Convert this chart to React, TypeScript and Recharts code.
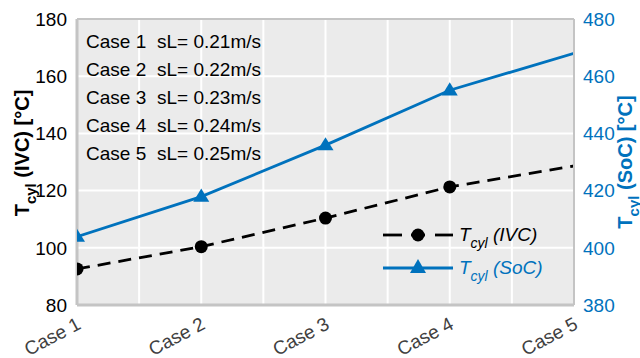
import React from "react";
import {
  LineChart,
  Line,
  XAxis,
  YAxis,
  CartesianGrid,
  ReferenceLine,
} from "recharts";

const cases = ["Case 1", "Case 2", "Case 3", "Case 4", "Case 5"];
const flameSpeeds = ["0.21", "0.22", "0.23", "0.24", "0.25"];
const tIvc = [92.6, 100.4, 110.4, 121.3, 128.6];
const tSoc = [403.9, 417.9, 435.9, 455.1, 468.0];
const leftTicks = [80, 100, 120, 140, 160, 180];
const rightTicks = [380, 400, 420, 440, 460, 480];
const xTicks = [1, 1.5, 2, 2.5, 3, 3.5, 4, 4.5, 5];

const data = cases.map((c, i) => ({
  x: i + 1,
  name: c,
  ivc: tIvc[i],
  soc: tSoc[i],
}));

const BLUE = "#0072BD";
const FONT = "'Liberation Sans', Arial, sans-serif";
const AXIS_GRAY = "#c4c4c4";

// markers only on the first four cases
const CircleDot = (props: any) => {
  const { cx, cy, index } = props;
  if (index > 3) return <g key={`c${index}`} />;
  return <circle key={`c${index}`} cx={cx} cy={cy} r={6.5} fill="#000" />;
};

const TriangleDot = (props: any) => {
  const { cx, cy, index } = props;
  if (index > 3) return <g key={`t${index}`} />;
  const s = 8;
  return (
    <polygon
      key={`t${index}`}
      points={`${cx},${cy - s} ${cx - s},${cy + s * 0.65} ${cx + s},${cy + s * 0.65}`}
      fill={BLUE}
    />
  );
};

const CaseTick = (props: any) => {
  const { x, y, payload } = props;
  if (!Number.isInteger(payload.value)) return <g />;
  return (
    <text
      transform={`translate(${x + 5},${y + 15}) rotate(-28)`}
      textAnchor="end"
      fontSize={19}
      fontFamily={FONT}
      fill="#404040"
    >
      {cases[payload.value - 1]}
    </text>
  );
};

export default function App() {
  return (
    <div style={{ position: "absolute", left: 0, top: 0, width: 640, height: 358, background: "#fff" }}>
      <LineChart
        width={640}
        height={358}
        data={data}
        margin={{ top: 19, right: 0, bottom: 0, left: 0 }}
      >
        <CartesianGrid
          yAxisId="left"
          fill="#ebebeb"
          stroke="#ffffff"
          strokeWidth={2}
        />
        <XAxis
          dataKey="x"
          type="number"
          domain={[1, 5]}
          ticks={xTicks}
          interval={0}
          allowDataOverflow
          height={53}
          tick={<CaseTick />}
          tickLine={false}
          axisLine={{ stroke: AXIS_GRAY, strokeWidth: 3 }}
        />
        <YAxis
          yAxisId="left"
          domain={[80, 180]}
          ticks={leftTicks}
          width={77}
          tickLine={false}
          tickMargin={4}
          axisLine={{ stroke: AXIS_GRAY, strokeWidth: 3 }}
          tick={{ fill: "#000", fontSize: 19, fontFamily: FONT }}
        />
        <YAxis
          yAxisId="right"
          orientation="right"
          domain={[380, 480]}
          ticks={rightTicks}
          width={66}
          tickLine={false}
          tickMargin={3}
          axisLine={{ stroke: AXIS_GRAY, strokeWidth: 2 }}
          tick={{ fill: BLUE, fontSize: 19, fontFamily: FONT, textAnchor: "start" }}
        />
        <ReferenceLine yAxisId="left" y={180} stroke={AXIS_GRAY} strokeWidth={2} />
        <Line
          yAxisId="left"
          dataKey="ivc"
          stroke="#000"
          strokeWidth={2.8}
          strokeDasharray="13 8"
          dot={<CircleDot />}
          isAnimationActive={false}
        />
        <Line
          yAxisId="right"
          dataKey="soc"
          stroke={BLUE}
          strokeWidth={2.8}
          dot={<TriangleDot />}
          isAnimationActive={false}
        />

        {/* flame speed table */}
        <g fontFamily={FONT} fontSize={19} fill="#000">
          {cases.map((c, i) => (
            <g key={c}>
              <text x={86} y={48 + i * 28}>{c}</text>
              <text x={157} y={48 + i * 28}>{`sL= ${flameSpeeds[i]}m/s`}</text>
            </g>
          ))}
        </g>

        {/* legend */}
        <g fontFamily={FONT} fontSize={19} fontStyle="italic">
          <line x1={383} x2={402} y1={235} y2={235} stroke="#000" strokeWidth={2.8} />
          <line x1={411} x2={425} y1={235} y2={235} stroke="#000" strokeWidth={2.8} />
          <line x1={435} x2={453} y1={235} y2={235} stroke="#000" strokeWidth={2.8} />
          <circle cx={418} cy={235} r={6.5} fill="#000" />
          <text x={459} y={241} fill="#000">
            T<tspan dy={7} fontSize={14}>cyl</tspan>
            <tspan dy={-7}> (IVC)</tspan>
          </text>
          <line x1={383} x2={453} y1={268} y2={268} stroke={BLUE} strokeWidth={2.8} />
          <polygon points="418,259 410,273 426,273" fill={BLUE} />
          <text x={459} y={274} fill={BLUE}>
            T<tspan dy={7} fontSize={14}>cyl</tspan>
            <tspan dy={-7}> (SoC)</tspan>
          </text>
        </g>

        {/* axis titles */}
        <text
          transform="translate(29,153) rotate(-90)"
          textAnchor="middle"
          fontFamily={FONT}
          fontSize={20}
          fontWeight="bold"
          fill="#000"
        >
          T<tspan dy={7} fontSize={15}>cyl</tspan>
          <tspan dy={-7}> (IVC) [°C]</tspan>
        </text>
        <text
          transform="translate(632,162) rotate(-90)"
          textAnchor="middle"
          fontFamily={FONT}
          fontSize={20}
          fontWeight="bold"
          fill={BLUE}
        >
          T<tspan dy={7} fontSize={15}>cyl</tspan>
          <tspan dy={-7}> (SoC) [°C]</tspan>
        </text>
      </LineChart>
    </div>
  );
}
